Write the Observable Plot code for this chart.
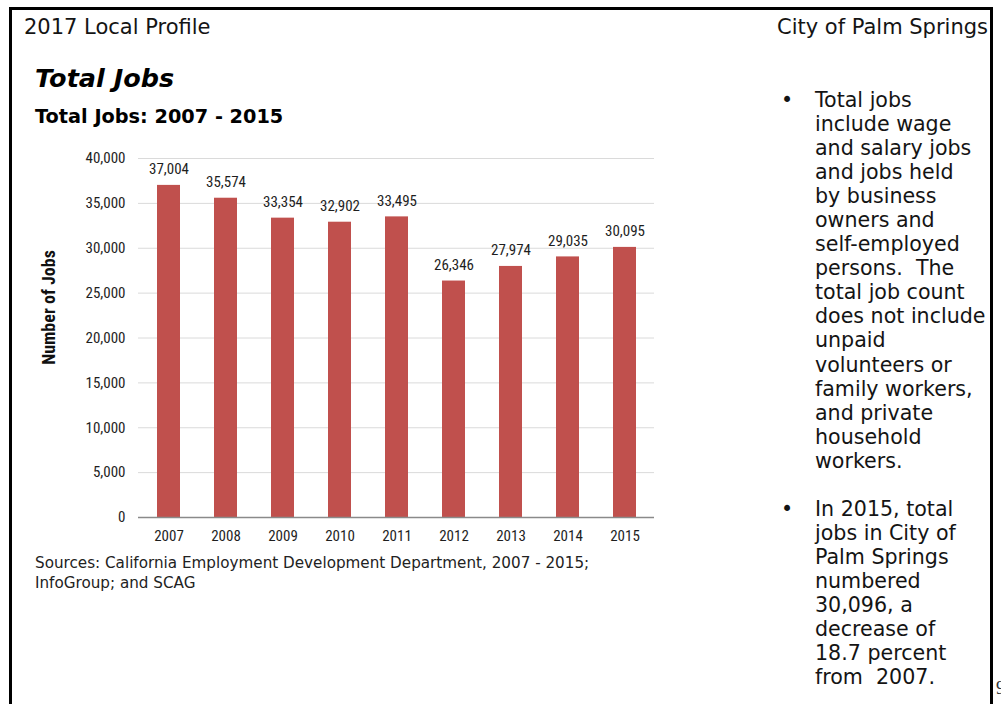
<!DOCTYPE html>
<html><head><meta charset="utf-8">
<script src="https://cdn.jsdelivr.net/npm/d3@7"></script>
<script src="https://cdn.jsdelivr.net/npm/@observablehq/plot@0.6"></script>
<style>
html,body{margin:0;padding:0;width:1001px;height:704px;overflow:hidden;background:#fff;}
body{position:relative;font-family:"DejaVu Sans",Verdana,sans-serif;color:#141414;}
.frame{position:absolute;left:9px;top:7px;width:978px;height:780px;border:3.5px solid #000;}
.t{position:absolute;white-space:pre;}
#hdrL{left:24px;top:16.5px;font-size:21px;line-height:21px;}
#hdrR{right:13px;top:16.5px;font-size:21px;line-height:21px;}
#title{left:35px;top:66px;font-size:25.5px;line-height:25.5px;font-weight:bold;font-style:italic;color:#000;}
#subtitle{left:35px;top:107px;font-size:19.3px;line-height:19.3px;font-weight:bold;color:#000;}
#chart{position:absolute;left:0;top:140px;}
#src{left:35px;top:553px;font-size:15.2px;line-height:20px;color:#222;}
#notes{position:absolute;left:815px;top:88px;font-size:20.6px;line-height:24.05px;}
#notes div{white-space:pre;height:24.05px;}
.bullet{position:absolute;left:781px;font-size:20.6px;line-height:24.05px;}
#pg{left:996px;top:679px;font-family:"Liberation Serif",serif;font-size:18px;line-height:18px;color:#333;}
</style>
</head><body>
<div class="frame"></div>
<div class="t" id="hdrL">2017 Local Profile</div>
<div class="t" id="hdrR">City of Palm Springs</div>
<div class="t" id="title">Total Jobs</div>
<div class="t" id="subtitle">Total Jobs: 2007 - 2015</div>
<div id="chart"></div>
<div class="t" id="src"></div>
<div id="notes"></div>
<div class="t" id="pg">9</div>
<script>
const years = ["2007","2008","2009","2010","2011","2012","2013","2014","2015"];
const jobs = [37004, 35574, 33354, 32902, 33495, 26346, 27974, 29035, 30095];
const yTicks = [0,5000,10000,15000,20000,25000,30000,35000,40000];
const yLabel = "Number of Jobs";
const sourceLines = ["Sources: California Employment Development Department, 2007 - 2015;", "InfoGroup; and SCAG"];
const bullet1 = ["Total jobs","include wage","and salary jobs","and jobs held","by business","owners and","self-employed","persons.  The","total job count","does not include","unpaid","volunteers or","family workers,","and private","household","workers."];
const bullet2 = ["In 2015, total","jobs in City of","Palm Springs","numbered","30,096, a","decrease of","18.7 percent","from  2007."];

const data = years.map((y,i)=>({year:y, jobs:jobs[i]}));
const fmt = d3.format(",");
const narrow = "'Liberation Sans Narrow','Arial Narrow','Roboto Condensed',sans-serif";

const chart = Plot.plot({
  width: 680, height: 420,
  marginLeft: 138, marginRight: 26, marginTop: 18, marginBottom: 43,
  style: {fontFamily: narrow, fontSize: "15px", color: "#1e1e1e", background: "transparent"},
  x: {domain: years, paddingInner: 0.6, paddingOuter: 0.3, label: null},
  y: {domain: [0, 40000], label: null},
  marks: [
    Plot.gridY(yTicks, {stroke: "#dadada", strokeOpacity: 1}),
    Plot.barY(data, {x: "year", y: "jobs", fill: "#C0504D"}),
    Plot.ruleY([0], {stroke: "#8a8a8a", strokeWidth: 1.5}),
    Plot.text(data, {x: "year", y: "jobs", text: d => fmt(d.jobs), dy: -16, fill: "#1e1e1e"}),
    Plot.axisY({ticks: yTicks, tickFormat: fmt, tickSize: 0, tickPadding: 13, label: null}),
    Plot.axisX({tickSize: 0, tickPadding: 13, label: null}),
    Plot.text([yLabel], {frameAnchor: "left", textAnchor: "middle", rotate: -90, dx: -89.5, dy: -30.5, fontWeight: "bold", fontSize: 18, fill: "#111"})
  ]
});
document.getElementById("chart").appendChild(chart);

document.getElementById("src").textContent = sourceLines.join("\n");
const notes = document.getElementById("notes");
const allLines = [...bullet1, "", ...bullet2];
allLines.forEach(l => { const d = document.createElement("div"); d.textContent = l; notes.appendChild(d); });
[0, bullet1.length + 1].forEach(idx => {
  const b = document.createElement("div");
  b.className = "bullet";
  b.textContent = "•";
  b.style.top = (88 + idx * 24.05) + "px";
  document.body.appendChild(b);
});
</script>
</body></html>
